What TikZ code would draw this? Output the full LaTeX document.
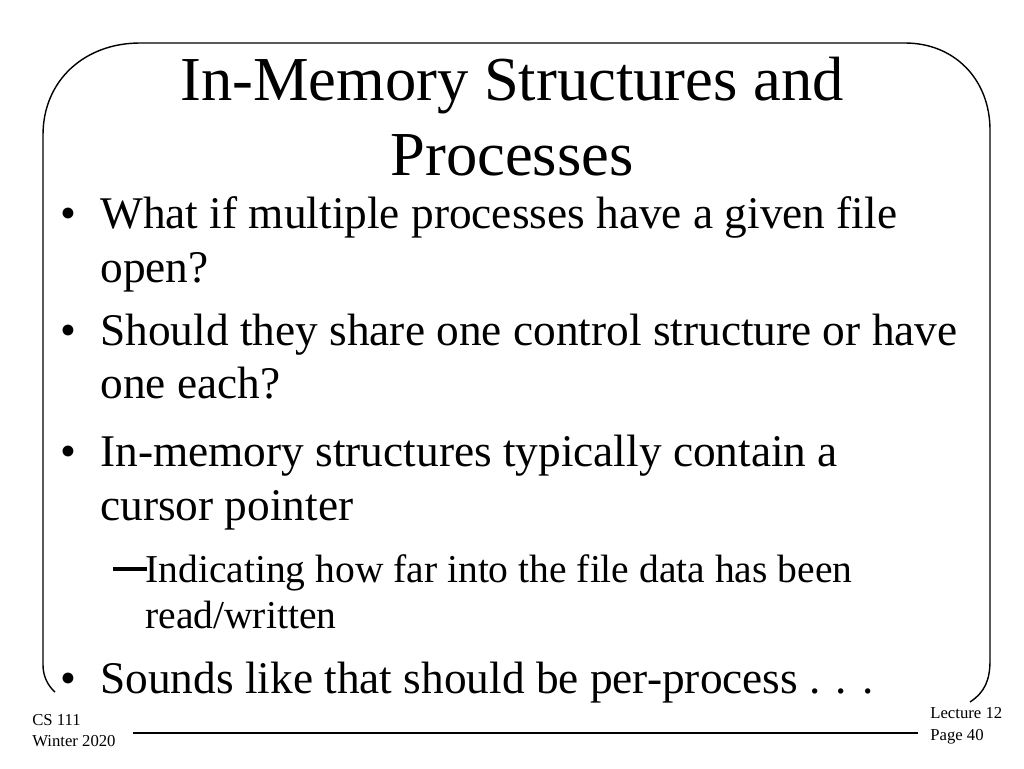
\documentclass[tikz,border=0pt]{standalone}
\usepackage{fontspec}
\setmainfont{Liberation Serif}
\usetikzlibrary{positioning}
\tikzset{
    titletext/.style={font=\fontsize{35.6}{40}\selectfont, anchor=base},
    bodytext/.style={font=\fontsize{25.8}{30}\selectfont, anchor=base west, inner sep=0pt},
    subtext/.style={font=\fontsize{22.5}{26}\selectfont, anchor=base west, inner sep=0pt},
    foottext/.style={font=\fontsize{9.5}{11}\selectfont, anchor=base west, inner sep=0pt}
}
\begin{document}
\begin{tikzpicture}[x=0.02cm, y=-0.02cm]
    \useasboundingbox (0,0) rectangle (1024,768);
    % frame
    \draw[line width=0.8pt] (43,665) -- (43,135) .. controls (43,80) and (85,43) .. (140,43)
        -- (905,43) .. controls (955,43) and (990,80) .. (990,130) -- (990,660)
        .. controls (990,680) and (985,692) .. (970,702);
    \draw[line width=0.8pt] (43,665) .. controls (43,675) and (47,685) .. (55,692);
    \draw[line width=0.8pt] (133,733) -- (918,733);
    % title
    \node[titletext] (title1) at (512,100) {In-Memory Structures and};
    \node[titletext] (title2) at (512,175) {Processes};
    % bullets
    \node[bodytext] (b1) at (60,228) {\textbullet};
    \node[bodytext] (t1) at (100,228) {What if multiple processes have a given file};
    \node[bodytext] (t1b) at (100,282) {open?};
    \node[bodytext] (b2) at (60,345) {\textbullet};
    \node[bodytext] (t2) at (100,345) {Should they share one control structure or have};
    \node[bodytext] (t2b) at (100,398) {one each?};
    \node[bodytext] (b3) at (60,466) {\textbullet};
    \node[bodytext] (t3) at (100,466) {In-memory structures typically contain a};
    \node[bodytext] (t3b) at (100,520) {cursor pointer};
    \node[subtext] (d1) at (113,582) {\rule[0.28em]{0.85em}{0.09em}};
    \node[subtext] (s1) at (145,582) {Indicating how far into the file data has been};
    \node[subtext] (s1b) at (145,628) {read/written};
    \node[bodytext] (b4) at (60,693) {\textbullet};
    \node[bodytext] (t4) at (100,693) {Sounds like that should be per-process . . .};
    % footer
    \node[foottext] (cs) at (32,725) {CS 111};
    \node[foottext] (term) at (32,746) {Winter 2020};
    \node[foottext] (lec) at (930,718) {Lecture 12};
    \node[foottext] (pg) at (930,740) {Page 40};
\end{tikzpicture}
\end{document}
